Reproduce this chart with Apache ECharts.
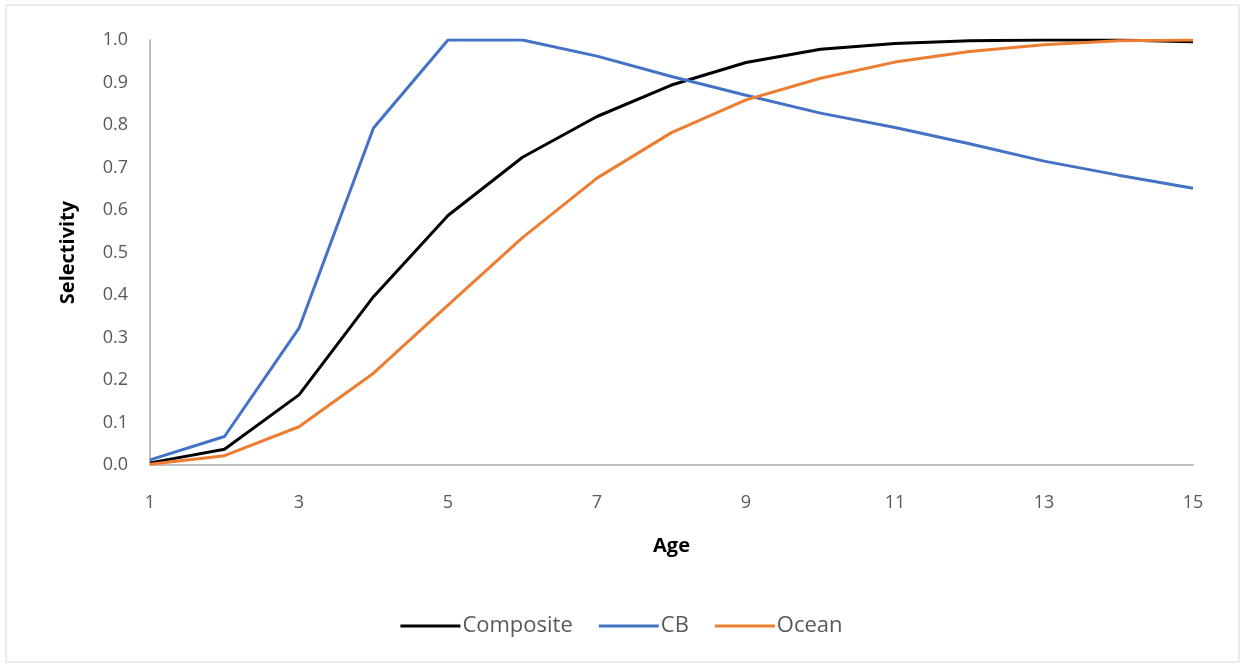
<!DOCTYPE html>
<html>
<head>
<meta charset="utf-8">
<script src="https://cdn.jsdelivr.net/npm/echarts@6/dist/echarts.min.js"></script>
<style>
    html, body { margin: 0; padding: 0; background: #fff; }
    #chart { width: 1243px; height: 666px; }
</style>
</head>
<body>
<div id="chart"></div>
<script>
// 年龄
var ages = ['1', '2', '3', '4', '5', '6', '7', '8', '9', '10', '11', '12', '13', '14', '15'];
// 各系列选择性
var composite = [0.005, 0.037, 0.165, 0.396, 0.587, 0.724, 0.82, 0.894, 0.947, 0.978, 0.992, 0.998, 1.0, 1.0, 0.996];
var cb = [0.012, 0.067, 0.322, 0.793, 1.0, 1.0, 0.962, 0.914, 0.87, 0.828, 0.794, 0.756, 0.715, 0.682, 0.651];
var ocean = [0.002, 0.022, 0.09, 0.216, 0.376, 0.535, 0.675, 0.782, 0.859, 0.91, 0.948, 0.973, 0.989, 0.998, 1.0];
var yTicks = { min: 0, max: 1, step: 0.1 };

var fontFamily = '"Open Sans", "Liberation Sans", sans-serif';
var textColor = '#595959';

var chart = echarts.init(document.getElementById('chart'), null, { renderer: 'canvas' });

var makeLine = function(name, color, data) {
    return {
        name : name,
        type : 'line',
        data : data,
        symbol : 'none',
        smooth : false,
        lineStyle : { color : color, width : 3 },
        itemStyle : { color : color },
        z : 3
    };
};

var option = {
    backgroundColor : '#fff',
    animation : false,
    graphic : [ {
        type : 'rect',
        shape : { x : 6, y : 5, width : 1233, height : 657 },
        style : { fill : 'none', stroke : '#d9d9d9', lineWidth : 1 },
        silent : true
    } ],
    grid : {
        left : 150,
        right : 50,
        top : 40,
        bottom : 201,
        containLabel : false
    },
    legend : {
        bottom : 24,
        left : 'center',
        itemWidth : 60,
        itemHeight : 3,
        itemGap : 26,
        icon : 'rect',
        textStyle : { color : textColor, fontSize : 22, fontFamily : fontFamily, padding : [0, 0, 0, -3] },
        data : ['Composite', 'CB', 'Ocean']
    },
    xAxis : {
        type : 'category',
        data : ages,
        boundaryGap : false,
        name : 'Age',
        nameLocation : 'middle',
        nameGap : 71,
        nameTextStyle : { color : '#000', fontSize : 20, fontWeight : 'bold', fontFamily : fontFamily },
        axisLine : { lineStyle : { color : '#bfbfbf', width : 2 } },
        axisTick : { show : false },
        axisLabel : {
            interval : 1,
            color : textColor,
            fontSize : 18,
            fontFamily : fontFamily,
            margin : 29
        },
        splitLine : { show : false }
    },
    yAxis : {
        type : 'value',
        min : yTicks.min,
        max : yTicks.max,
        interval : yTicks.step,
        name : 'Selectivity',
        nameLocation : 'middle',
        nameGap : 72,
        nameTextStyle : { color : '#000', fontSize : 20, fontWeight : 'bold', fontFamily : fontFamily },
        axisLine : { show : true, lineStyle : { color : '#bfbfbf', width : 2 } },
        axisTick : { show : false },
        axisLabel : {
            color : textColor,
            fontSize : 18,
            fontFamily : fontFamily,
            margin : 22,
            formatter : function(value) {
                return value.toFixed(1);
            }
        },
        splitLine : { show : false }
    },
    series : [
        makeLine('Composite', '#000000', composite),
        makeLine('CB', '#4472c4', cb),
        makeLine('Ocean', '#ed7d31', ocean)
    ]
};
chart.setOption(option);
</script>
</body>
</html>
